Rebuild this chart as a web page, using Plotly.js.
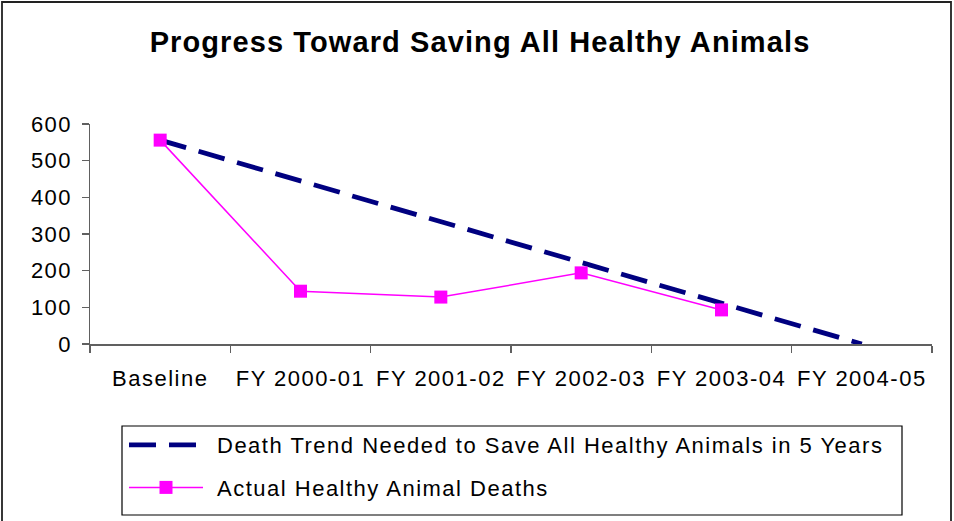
<!DOCTYPE html>
<html>
<head>
<meta charset="utf-8">
<script src="https://cdn.plot.ly/plotly-3.0.1.min.js"></script>
<style>
  html, body { margin: 0; padding: 0; background: #fff; }
  #chart { width: 954px; height: 521px; }
  text { letter-spacing: 1.5px; }
  #chart .gtitle { letter-spacing: 1.1px; }
  #chart .legendtext { transform: translate(9px, 0px); }
  #chart .legend .scrollbox { clip-path: none !important; }
</style>
</head>
<body>
<div id="chart"></div>
<script>
const categories = ['Baseline', 'FY 2000-01', 'FY 2001-02', 'FY 2002-03', 'FY 2003-04', 'FY 2004-05'];
const trendValues = [556, 445, 334, 222, 111, 0];
const actualValues = [556, 144, 128, 194, 93, null];
const trendName = 'Death Trend Needed to Save All Healthy Animals in 5 Years';
const actualName = 'Actual Healthy Animal Deaths';
const yTicks = [0, 100, 200, 300, 400, 500, 600];

const font = 'Liberation Sans, Arial, sans-serif';

const traces = [
  {
    x: categories, y: trendValues, name: trendName, type: 'scatter', mode: 'lines',
    line: { color: '#000080', width: 4.8, dash: '27px,13px' },
    legendgroup: 'a'
  },
  {
    x: categories, y: actualValues, name: actualName, type: 'scatter', mode: 'lines+markers',
    line: { color: '#FF00FF', width: 1.5 },
    marker: { symbol: 'square', size: 13, color: '#FF00FF' },
    legendgroup: 'b'
  }
];

const L = 90, R = 932, T = 124, B = 344;
const W = R - L, H = B - T;
const px = v => (v - L) / W;
const py = v => (B - v) / H;

const layout = {
  width: 954, height: 521,
  margin: { l: L, r: 954 - R, t: T, b: 521 - B },
  paper_bgcolor: '#fff', plot_bgcolor: '#fff',
  font: { family: font, size: 22, color: '#000' },
  title: {
    text: '<b>Progress Toward Saving All Healthy Animals</b>',
    font: { family: font, size: 29, color: '#000' },
    x: 480 / 954, xanchor: 'center', xref: 'container',
    y: 1 - 42 / 521, yanchor: 'middle', yref: 'container'
  },
  xaxis: {
    type: 'category', categoryorder: 'array', categoryarray: categories,
    showline: true, linecolor: '#606060', linewidth: 1.5,
    ticks: 'outside', tickson: 'boundaries', ticklen: 7, tickcolor: '#606060', tickwidth: 1.5,
    showgrid: false, zeroline: false,
    tickfont: { family: font, size: 22, color: '#000' },
    ticklabelstandoff: 14,
    range: [-0.5, 5.5], fixedrange: true
  },
  yaxis: {
    range: [0, 600], tickvals: yTicks, ticktext: yTicks.map(String),
    showline: true, linecolor: '#606060', linewidth: 1.5,
    ticks: 'outside', ticklen: 7, tickcolor: '#606060', tickwidth: 1.5,
    showgrid: false, zeroline: false,
    tickfont: { family: font, size: 22, color: '#000' },
    ticklabelstandoff: 5,
    fixedrange: true
  },
  showlegend: true,
  legend: {
    x: px(124), xanchor: 'left', xref: 'paper',
    y: py(424), yanchor: 'top', yref: 'paper',
    bgcolor: 'rgba(0,0,0,0)', borderwidth: 0,
    font: { family: font, size: 22, color: '#000' },
    itemwidth: 74, tracegroupgap: 11, traceorder: 'grouped'
  },
  shapes: [
    { type: 'rect', xref: 'paper', yref: 'paper',
      x0: px(122), x1: px(902), y0: py(515), y1: py(426),
      line: { color: '#000', width: 1.2 }, fillcolor: 'rgba(0,0,0,0)' },
    { type: 'rect', xref: 'paper', yref: 'paper',
      x0: px(2), x1: px(951), y0: py(523), y1: py(2),
      line: { color: '#222', width: 1.8 }, fillcolor: 'rgba(0,0,0,0)' }
  ]
};

Plotly.newPlot('chart', traces, layout, { displayModeBar: false, staticPlot: true });
</script>
</body>
</html>
